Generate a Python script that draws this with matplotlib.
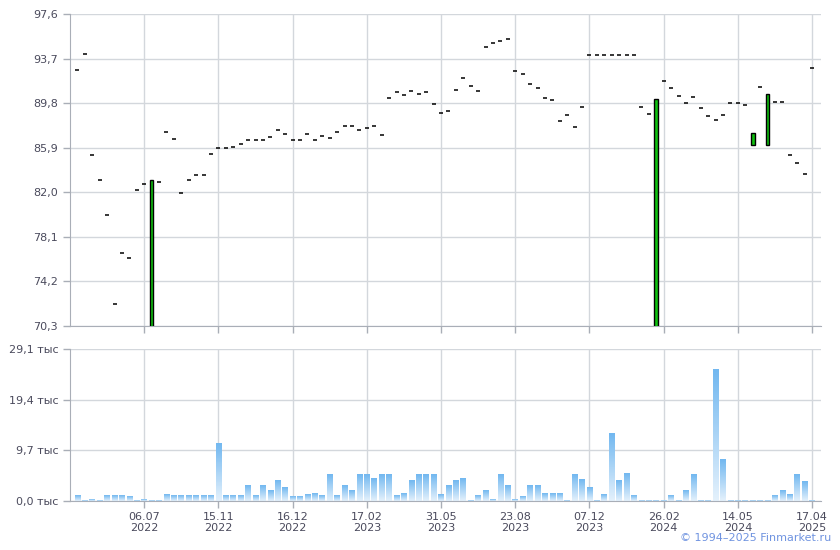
"""
Price candles + volume bars, Finmarket-style two-panel chart -> out.png
"""
import numpy as np
import matplotlib
matplotlib.use("Agg")
import matplotlib.pyplot as plt
from matplotlib.patches import Rectangle
from matplotlib.colors import LinearSegmentedColormap

# --- data (one entry per trading slot) ---
close_px = [92.67, 94.07, 85.23, 83.05, 79.98, 72.20, 76.66, 76.22, 82.17, 82.70,
            83.05, 82.87, 87.30, 86.64, 81.91, 83.05, 83.49, 83.49, 85.32, 85.85,
            85.85, 85.94, 86.20, 86.55, 86.55, 86.55, 86.81, 87.42, 87.07, 86.55,
            86.55, 87.07, 86.55, 86.90, 86.72, 87.25, 87.77, 87.77, 87.42, 87.60,
            87.77, 86.98, 90.22, 90.75, 90.48, 90.84, 90.57, 90.75, 89.70, 88.91,
            89.09, 90.92, 91.97, 91.27, 90.84, 94.68, 95.03, 95.20, 95.38, 92.58,
            92.32, 91.45, 91.10, 90.22, 90.05, 88.21, 88.74, 87.69, 89.44, 93.98,
            93.98, 93.98, 93.98, 93.98, 93.98, 93.98, 89.43, 88.82, 90.13, 91.71,
            91.10, 90.40, 89.79, 90.31, 89.35, 88.65, 88.30, 88.74, 89.79, 89.79,
            89.61, 87.16, 91.19, 90.57, 89.87, 89.87, 85.24, 84.54, 83.57, 92.85]
# slots where open differs from close (green bodies)
body_open = {10: 68.0, 78: 68.0, 91: 86.11, 93: 86.11}

volume_k = [0.96, 0.19, 0.38, 0.19, 0.96, 0.96, 0.96, 0.77, 0.19, 0.38,
            0.19, 0.19, 1.15, 0.96, 0.96, 0.96, 0.96, 0.96, 0.96, 11.1,
            0.96, 0.96, 0.96, 3.06, 0.96, 3.06, 2.10, 4.00, 2.68, 0.77,
            0.77, 1.34, 1.53, 0.96, 4.98, 0.96, 3.06, 2.10, 4.98, 4.98,
            4.40, 4.98, 4.98, 0.96, 1.53, 4.00, 4.98, 4.98, 4.98, 1.34,
            3.06, 4.00, 4.40, 0.19, 0.96, 2.10, 0.38, 4.98, 3.06, 0.38,
            0.77, 3.06, 3.06, 1.53, 1.53, 1.53, 0.19, 4.98, 4.21, 2.68,
            0.19, 1.15, 12.83, 4.00, 5.36, 0.96, 0.19, 0.19, 0.19, 0.19,
            0.96, 0.19, 2.10, 4.98, 0.19, 0.19, 25.08, 8.04, 0.19, 0.19,
            0.19, 0.19, 0.19, 0.19, 0.96, 2.10, 1.34, 4.98, 3.64, 0.19]

date_labels = ["06.07\n2022", "15.11\n2022", "16.12\n2022", "17.02\n2023",
               "31.05\n2023", "23.08\n2023", "07.12\n2023", "26.02\n2024",
               "14.05\n2024", "17.04\n2025"]
price_ticks = [70.3, 74.2, 78.1, 82.0, 85.9, 89.8, 93.7, 97.6]
volume_ticks = [0.0, 9.7, 19.4, 29.1]

assert len(close_px) == len(volume_k) == 100

GRID = "#d3d7dc"
SPINE = "#a9aeb7"
LABEL = "#4a4a5c"

plt.rcParams["font.family"] = ["DejaVu Sans"]
plt.rcParams["font.size"] = 8

fig = plt.figure(figsize=(8.4, 5.5), dpi=100)
ax1 = fig.add_axes([70 / 840, 1 - 326 / 550, 751 / 840, 312 / 550])
ax2 = fig.add_axes([70 / 840, 1 - 501 / 550, 751 / 840, 152 / 550])

x = np.arange(len(close_px))
tick_pos = x[9::10]

for ax in (ax1, ax2):
    ax.set_xlim(-1.0, 100.2)
    ax.spines[["top", "right"]].set_visible(False)
    ax.spines[["left", "bottom"]].set_color(SPINE)
    ax.grid(True, color=GRID, lw=1)
    ax.set_axisbelow(True)
    ax.tick_params(colors=SPINE, labelcolor=LABEL, length=5, width=1)
    ax.set_xticks(tick_pos)

# --- price panel ---
ax1.set_ylim(price_ticks[0], price_ticks[-1])
ax1.set_yticks(price_ticks)
ax1.set_yticklabels([f"{t:.1f}".replace(".", ",") for t in price_ticks])
ax1.set_xticklabels([])
for i, c in enumerate(close_px):
    if i in body_open:
        o = body_open[i]
        ax1.add_patch(Rectangle((i - 0.25, min(o, c)), 0.5, abs(c - o),
                                facecolor="#10c010", edgecolor="black",
                                lw=1, zorder=3))
    else:
        ax1.hlines(c, i - 0.27, i + 0.27, color="black", lw=1.1, zorder=3)

# --- volume panel, each bar with its own vertical gradient ---
cmap = LinearSegmentedColormap.from_list("vol", ["#e4f1fc", "#72b8f0"])
grad = np.linspace(0, 1, 64).reshape(-1, 1)
w = 0.76
for i, v in enumerate(volume_k):
    ax2.imshow(grad, extent=[i - w / 2, i + w / 2, 0, v], origin="lower",
               aspect="auto", cmap=cmap, zorder=2, interpolation="bilinear")
ax2.set_xlim(-1.0, 100.2)
ax2.set_ylim(volume_ticks[0], volume_ticks[-1])
ax2.set_yticks(volume_ticks)
ax2.set_yticklabels([f"{t:.1f}".replace(".", ",") + " тыс" for t in volume_ticks])
ax2.set_xticklabels(date_labels, linespacing=1.15)
ax2.tick_params(axis="x", pad=3)

fig.text(0.99, 0.012, "© 1994–2025 Finmarket.ru", ha="right", va="bottom",
         color="#6f93e0", fontsize=8)

fig.savefig("out.png", dpi=100)
